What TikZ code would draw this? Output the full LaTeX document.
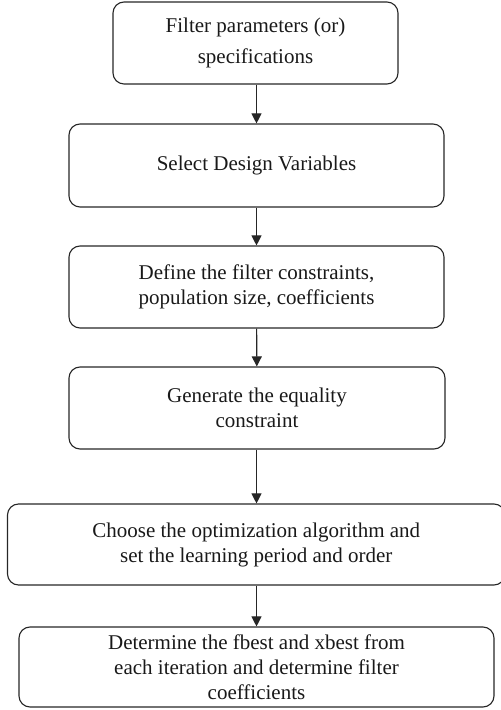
\documentclass[tikz,border=0pt]{standalone}
\usepackage{fontspec}
\setmainfont{Liberation Serif}
\usetikzlibrary{arrows.meta}
\begin{document}
\begin{tikzpicture}[x=1pt,y=1pt,
  box/.style={draw=black!85, line width=1.1pt, rounded corners=11pt, align=center,
    inner sep=0pt, text=black!90, font=\fontsize{21}{25}\selectfont},
  arr/.style={draw=black!85, line width=1.1pt, -{Triangle[length=10pt,width=10pt]}}]
\useasboundingbox (0,0) rectangle (501,710);
\node[box, minimum width=285pt, minimum height=82pt, font=\fontsize{21}{31}\selectfont] (b1) at (255.5,667) {Filter parameters (or)\\specifications};
\node[box, minimum width=375pt, minimum height=83pt] (b2) at (256.5,544.5) {Select Design Variables};
\node[box, minimum width=375pt, minimum height=82pt] (b3) at (256.5,423) {Define the filter constraints,\\population size, coefficients};
\node[box, minimum width=376pt, minimum height=82pt] (b4) at (257,302) {Generate the equality\\constraint};
\node[box, minimum width=497.5pt, minimum height=81pt] (b5) at (256.25,165.5) {Choose the optimization algorithm and\\set the learning period and order};
\node[box, minimum width=475pt, minimum height=80pt] (b6) at (256.5,43) {Determine the fbest and xbest from\\each iteration and determine filter\\coefficients};
\draw[arr] (b1.south -| 256.5,0) -- (b2.north -| 256.5,0);
\draw[arr] (b2) -- (b3);
\draw[arr] (b3) -- (b4);
\draw[arr] (b4.south -| 256.5,0) -- (b5.north -| 256.5,0);
\draw[arr] (b5.south -| 256.5,0) -- (b6.north -| 256.5,0);
\end{tikzpicture}
\end{document}
